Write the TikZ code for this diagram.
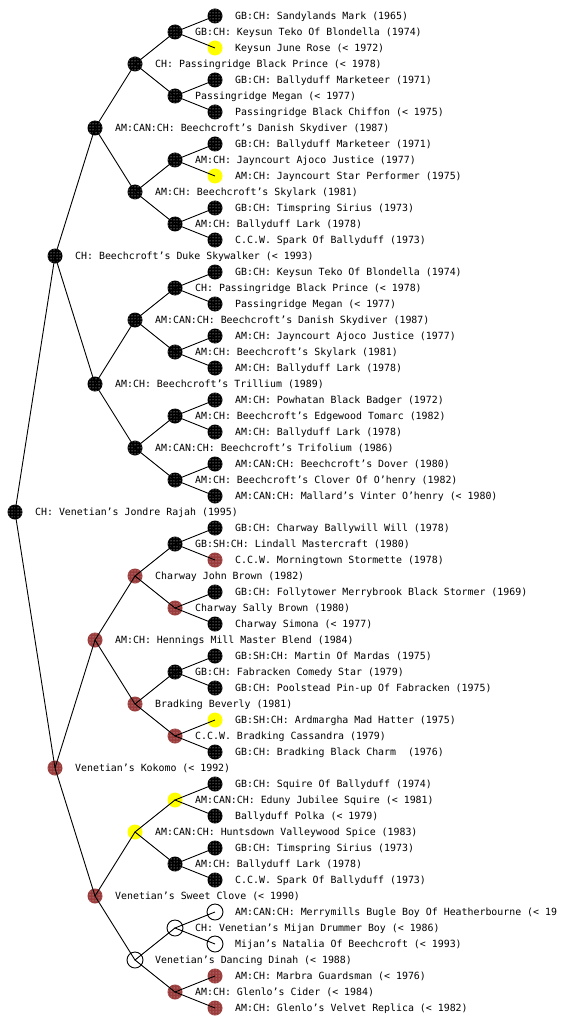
\documentclass[tikz,border=0pt]{standalone}
\usepackage{fontspec}
\usetikzlibrary{patterns}
\newfontfamily\pedfont{DejaVu Sans Mono}
\definecolor{pblack}{HTML}{000000}
\definecolor{pred}{HTML}{9A3C3C}
\definecolor{pyellow}{HTML}{FFFF00}
\tikzset{
  dot/.style={circle, inner sep=0pt, minimum size=15pt, draw=none},
  dblack/.style={dot, fill=pblack, postaction={pattern=dots, pattern color=white}},
  dred/.style={dot, fill=pred, postaction={pattern=dots, pattern color=white!70!pred}},
  dyellow/.style={dot, fill=pyellow},
  dwhite/.style={circle, inner sep=0pt, minimum size=16pt, draw=black, line width=0.9pt, fill=white},
  lbl/.style={anchor=base west, inner sep=0pt, font=\pedfont\fontsize{9.9pt}{11pt}\selectfont},
  edge/.style={draw=black, line width=0.9pt}
}
\newcommand\ped[5]{\node[#4] (n#1) at (#2,#3) {};
  \node[lbl] (t#1) at ([xshift=20pt,yshift=-3.7pt]n#1.center) {#5};}
\begin{document}
\begin{tikzpicture}[x=1pt,y=-1pt]
\useasboundingbox (0,0) rectangle (560,1024);
\clip (0,0) rectangle (560,1024);
\fill[white] (0,0) rectangle (560,1024);
\ped{1}{215}{16}{dblack}{GB:CH: Sandylands Mark (1965)}
\ped{2}{175}{32}{dblack}{GB:CH: Keysun Teko Of Blondella (1974)}
\ped{3}{215}{48}{dyellow}{Keysun June Rose (< 1972)}
\ped{4}{135}{64}{dblack}{CH: Passingridge Black Prince (< 1978)}
\ped{5}{215}{80}{dblack}{GB:CH: Ballyduff Marketeer (1971)}
\ped{6}{175}{96}{dblack}{Passingridge Megan (< 1977)}
\ped{7}{215}{112}{dblack}{Passingridge Black Chiffon (< 1975)}
\ped{8}{95}{128}{dblack}{AM:CAN:CH: Beechcroft’s Danish Skydiver (1987)}
\ped{9}{215}{144}{dblack}{GB:CH: Ballyduff Marketeer (1971)}
\ped{10}{175}{160}{dblack}{AM:CH: Jayncourt Ajoco Justice (1977)}
\ped{11}{215}{176}{dyellow}{AM:CH: Jayncourt Star Performer (1975)}
\ped{12}{135}{192}{dblack}{AM:CH: Beechcroft’s Skylark (1981)}
\ped{13}{215}{208}{dblack}{GB:CH: Timspring Sirius (1973)}
\ped{14}{175}{224}{dblack}{AM:CH: Ballyduff Lark (1978)}
\ped{15}{215}{240}{dblack}{C.C.W. Spark Of Ballyduff (1973)}
\ped{16}{55}{256}{dblack}{CH: Beechcroft’s Duke Skywalker (< 1993)}
\ped{17}{215}{272}{dblack}{GB:CH: Keysun Teko Of Blondella (1974)}
\ped{18}{175}{288}{dblack}{CH: Passingridge Black Prince (< 1978)}
\ped{19}{215}{304}{dblack}{Passingridge Megan (< 1977)}
\ped{20}{135}{320}{dblack}{AM:CAN:CH: Beechcroft’s Danish Skydiver (1987)}
\ped{21}{215}{336}{dblack}{AM:CH: Jayncourt Ajoco Justice (1977)}
\ped{22}{175}{352}{dblack}{AM:CH: Beechcroft’s Skylark (1981)}
\ped{23}{215}{368}{dblack}{AM:CH: Ballyduff Lark (1978)}
\ped{24}{95}{384}{dblack}{AM:CH: Beechcroft’s Trillium (1989)}
\ped{25}{215}{400}{dblack}{AM:CH: Powhatan Black Badger (1972)}
\ped{26}{175}{416}{dblack}{AM:CH: Beechcroft’s Edgewood Tomarc (1982)}
\ped{27}{215}{432}{dblack}{AM:CH: Ballyduff Lark (1978)}
\ped{28}{135}{448}{dblack}{AM:CAN:CH: Beechcroft’s Trifolium (1986)}
\ped{29}{215}{464}{dblack}{AM:CAN:CH: Beechcroft’s Dover (1980)}
\ped{30}{175}{480}{dblack}{AM:CH: Beechcroft’s Clover Of O’henry (1982)}
\ped{31}{215}{496}{dblack}{AM:CAN:CH: Mallard’s Vinter O’henry (< 1980)}
\ped{32}{15}{512}{dblack}{CH: Venetian’s Jondre Rajah (1995)}
\ped{33}{215}{528}{dblack}{GB:CH: Charway Ballywill Will (1978)}
\ped{34}{175}{544}{dblack}{GB:SH:CH: Lindall Mastercraft (1980)}
\ped{35}{215}{560}{dred}{C.C.W. Morningtown Stormette (1978)}
\ped{36}{135}{576}{dred}{Charway John Brown (1982)}
\ped{37}{215}{592}{dblack}{GB:CH: Follytower Merrybrook Black Stormer (1969)}
\ped{38}{175}{608}{dred}{Charway Sally Brown (1980)}
\ped{39}{215}{624}{dblack}{Charway Simona (< 1977)}
\ped{40}{95}{640}{dred}{AM:CH: Hennings Mill Master Blend (1984)}
\ped{41}{215}{656}{dblack}{GB:SH:CH: Martin Of Mardas (1975)}
\ped{42}{175}{672}{dblack}{GB:CH: Fabracken Comedy Star (1979)}
\ped{43}{215}{688}{dblack}{GB:CH: Poolstead Pin-up Of Fabracken (1975)}
\ped{44}{135}{704}{dred}{Bradking Beverly (1981)}
\ped{45}{215}{720}{dyellow}{GB:SH:CH: Ardmargha Mad Hatter (1975)}
\ped{46}{175}{736}{dred}{C.C.W. Bradking Cassandra (1979)}
\ped{47}{215}{752}{dblack}{GB:CH: Bradking Black Charm \ (1976)}
\ped{48}{55}{768}{dred}{Venetian’s Kokomo (< 1992)}
\ped{49}{215}{784}{dblack}{GB:CH: Squire Of Ballyduff (1974)}
\ped{50}{175}{800}{dyellow}{AM:CAN:CH: Eduny Jubilee Squire (< 1981)}
\ped{51}{215}{816}{dblack}{Ballyduff Polka (< 1979)}
\ped{52}{135}{832}{dyellow}{AM:CAN:CH: Huntsdown Valleywood Spice (1983)}
\ped{53}{215}{848}{dblack}{GB:CH: Timspring Sirius (1973)}
\ped{54}{175}{864}{dblack}{AM:CH: Ballyduff Lark (1978)}
\ped{55}{215}{880}{dblack}{C.C.W. Spark Of Ballyduff (1973)}
\ped{56}{95}{896}{dred}{Venetian’s Sweet Clove (< 1990)}
\ped{57}{215}{912}{dwhite}{AM:CAN:CH: Merrymills Bugle Boy Of Heatherbourne (< 19}
\ped{58}{175}{928}{dwhite}{CH: Venetian’s Mijan Drummer Boy (< 1986)}
\ped{59}{215}{944}{dwhite}{Mijan’s Natalia Of Beechcroft (< 1993)}
\ped{60}{135}{960}{dwhite}{Venetian’s Dancing Dinah (< 1988)}
\ped{61}{215}{976}{dred}{AM:CH: Marbra Guardsman (< 1976)}
\ped{62}{175}{992}{dred}{AM:CH: Glenlo’s Cider (< 1984)}
\ped{63}{215}{1008}{dred}{AM:CH: Glenlo’s Velvet Replica (< 1982)}
% connectors
\foreach \p in {2,6,...,62}{\pgfmathtruncatemacro\a{\p-1}\pgfmathtruncatemacro\b{\p+1}
  \draw[edge] (n\a.center) -- (n\p.center) -- (n\b.center);}
\foreach \p in {4,12,...,60}{\pgfmathtruncatemacro\a{\p-2}\pgfmathtruncatemacro\b{\p+2}
  \draw[edge] (n\a.center) -- (n\p.center) -- (n\b.center);}
\foreach \p in {8,24,40,56}{\pgfmathtruncatemacro\a{\p-4}\pgfmathtruncatemacro\b{\p+4}
  \draw[edge] (n\a.center) -- (n\p.center) -- (n\b.center);}
\foreach \p in {16,48}{\pgfmathtruncatemacro\a{\p-8}\pgfmathtruncatemacro\b{\p+8}
  \draw[edge] (n\a.center) -- (n\p.center) -- (n\b.center);}
\draw[edge] (n16.center) -- (n32.center) -- (n48.center);
\end{tikzpicture}
\end{document}
